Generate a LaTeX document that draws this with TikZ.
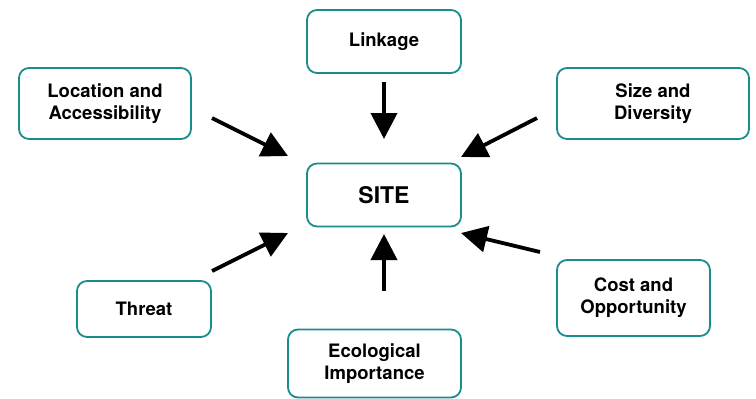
\documentclass[tikz,border=0pt]{standalone}
\usepackage{fontspec}
\setmainfont{TeX Gyre Heros}
\usetikzlibrary{arrows.meta, positioning}
\definecolor{rim}{HTML}{1A8C8C}

\begin{document}
\begin{tikzpicture}[x=1pt, y=-1pt,
    box/.style={draw=rim, line width=1.8pt, rounded corners=10pt, fill=white,
      align=center, font=\fontsize{18.5}{22}\selectfont\bfseries, inner sep=2pt},
    push/.style={line width=3.8pt, -{Triangle[length=26pt, width=26pt]}}]
  \useasboundingbox (0,0) rectangle (756,399);
  % Factor boxes
  \node[box, minimum width=154pt, minimum height=63pt] (site) at (384,195)
    {\fontsize{23}{26}\selectfont SITE};
  \node[box, minimum width=154pt, minimum height=63pt] (link) at (384,41.5) {Linkage};
  \node[box, minimum width=172pt, minimum height=71pt] (loc) at (105,103.5)
    {Location and\\Accessibility};
  \node[box, minimum width=192pt, minimum height=71pt] (size) at (653,103.5)
    {Size and\\Diversity};
  \node[box, minimum width=134pt, minimum height=56pt] (threat) at (144,309) {Threat};
  \node[box, minimum width=153pt, minimum height=76pt] (cost) at (633.5,298)
    {Cost and\\Opportunity};
  \node[box, minimum width=173pt, minimum height=68pt] (eco) at (374.5,363.5)
    {Ecological\\Importance};
  % Arrow ends
  \coordinate (link-a) at (384,82);    \coordinate (link-b) at (384,139);
  \coordinate (loc-a) at (212,118);    \coordinate (loc-b) at (288,156);
  \coordinate (size-a) at (537,118);   \coordinate (size-b) at (461,157);
  \coordinate (threat-a) at (212,271); \coordinate (threat-b) at (288,233);
  \coordinate (eco-a) at (384,291);    \coordinate (eco-b) at (384,234);
  \coordinate (cost-a) at (540,252);   \coordinate (cost-b) at (461,233);
  % Arrows
  \foreach \f in {link, loc, size, threat, eco, cost}
    \draw[push] (\f-a) -- (\f-b);
\end{tikzpicture}
\end{document}
